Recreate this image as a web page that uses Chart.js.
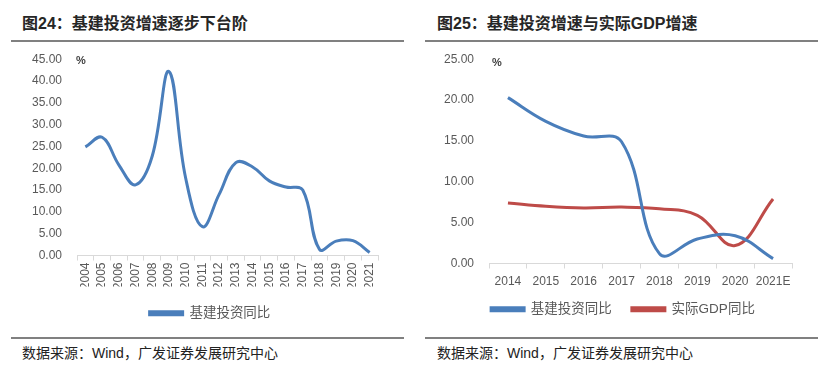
<!DOCTYPE html>
<html><head><meta charset="utf-8">
<script src="https://cdn.jsdelivr.net/npm/chart.js@4"></script>
<style>
html,body{margin:0;padding:0;background:#fff}
body{width:831px;height:367px;position:relative;overflow:hidden;font-family:"Liberation Sans","Noto Sans CJK SC",sans-serif}
.title{position:absolute;top:10px;font-weight:bold;font-size:16px;color:#262626;font-family:"Liberation Sans","Noto Sans CJK SC",sans-serif;white-space:nowrap}
.rule{position:absolute;height:2px;background:#808080}
.src{position:absolute;top:342px;font-size:14px;color:#222;white-space:nowrap;font-family:"Liberation Sans","Noto Sans CJK SC",sans-serif}
.pct{position:absolute;font-size:11px;font-weight:bold;color:#404040}
.cv{position:absolute}
</style>
</head><body>
<div class="title" style="left:22px">图24：基建投资增速逐步下台阶</div>
<div class="title" style="left:437px">图25：基建投资增速与实际GDP增速</div>
<div class="rule" style="left:11px;top:40px;width:393px"></div>
<div class="rule" style="left:425px;top:40px;width:393px"></div>
<div class="rule" style="left:11px;top:337px;width:393px"></div>
<div class="rule" style="left:425px;top:337px;width:393px"></div>
<div class="src" style="left:22px">数据来源：Wind，广发证券发展研究中心</div>
<div class="src" style="left:437px">数据来源：Wind，广发证券发展研究中心</div>
<div class="cv" style="left:0;top:45px;width:410px;height:285px"><canvas id="c1"></canvas></div>
<div class="cv" style="left:420px;top:45px;width:411px;height:287px"><canvas id="c2"></canvas></div>
<div class="pct" style="left:76px;top:54px">%</div>
<div class="pct" style="left:492px;top:56px">%</div>
<script>
// Left chart data
const years1 = ['2004','2005','2006','2007','2008','2009','2010','2011','2012','2013','2014','2015','2016','2017','2018','2019','2020','2021'];
const infra1 = [24.9, 27.1, 20.8, 16.2, 22.8, 42.2, 17.7, 6.6, 14.0, 21.3, 20.3, 17.1, 15.7, 15.0, 1.4, 3.3, 3.4, 0.7];

// Right chart data
const years2 = ['2014','2015','2016','2017','2018','2019','2020','2021E'];
const infra2 = [20.3, 17.4, 15.6, 14.9, 1.2, 3.0, 3.4, 0.6];
const gdp2 = [7.4, 7.0, 6.8, 6.9, 6.7, 5.9, 2.2, 7.9];

const seriesNames = ['基建投资同比', '实际GDP同比'];
const blue = '#4a7ebb';
const red = '#be4b48';
const tickColor = '#595959';
const tickFont = {family: '"Liberation Sans", Arial, sans-serif', size: 12};
const legendFont = {family: '"Liberation Sans", "Noto Sans CJK SC", sans-serif', size: 13.5};

Chart.defaults.animation = false;

function legendShift(dx, dy) {
  return {
    id: 'legendShift',
    afterLayout(chart) {
      const lg = chart.legend;
      if (!lg) return;
      lg.top += dy; lg.bottom += dy;
      lg.left += dx; lg.right += dx;
    }
  };
}

function makeChart(id, labels, datasets, yMax, yWidth, xHeight, rotate, xPad, padding, dx, dy) {
  return new Chart(document.getElementById(id), {
    type: 'line',
    data: {labels: labels, datasets: datasets},
    plugins: [legendShift(dx, dy)],
    options: {
      responsive: true,
      maintainAspectRatio: false,
      layout: {padding: padding},
      plugins: {
        legend: {
          position: 'bottom',
          labels: {boxWidth: 33, boxHeight: 3, color: tickColor, font: legendFont, padding: 20}
        },
        tooltip: {enabled: false}
      },
      elements: {point: {radius: 0}, line: {borderWidth: 3, tension: 0.4}},
      scales: {
        x: {
          offset: true,
          grid: {display: true, drawOnChartArea: false, drawTicks: true, tickLength: 5, offset: true, color: '#d9d9d9'},
          border: {display: true, color: '#d9d9d9', width: 1},
          ticks: {color: tickColor, font: tickFont, maxRotation: rotate, minRotation: rotate, autoSkip: false, padding: xPad},
          afterFit: function(s){ s.height = xHeight; }
        },
        y: {
          min: 0, max: yMax,
          grid: {display: false},
          border: {display: false},
          ticks: {stepSize: 5, color: tickColor, font: tickFont, padding: 7,
                  callback: function(v){ return v.toFixed(2); }},
          afterFit: function(s){ s.width = yWidth; }
        }
      }
    }
  });
}

makeChart('c1', years1, [
  {label: seriesNames[0], data: infra1, borderColor: blue, backgroundColor: blue}
], 45, 77, 31, 90, 2, {left: 0, right: 32, top: 2, bottom: 0}, 21, 0);

makeChart('c2', years2, [
  {label: seriesNames[0], data: infra2, borderColor: blue, backgroundColor: blue},
  {label: seriesNames[1], data: gdp2, borderColor: red, backgroundColor: red}
], 25, 69, 25, 0, 6, {left: 0, right: 39, top: 5, bottom: 0}, 17, -6);
</script>
</body></html>
